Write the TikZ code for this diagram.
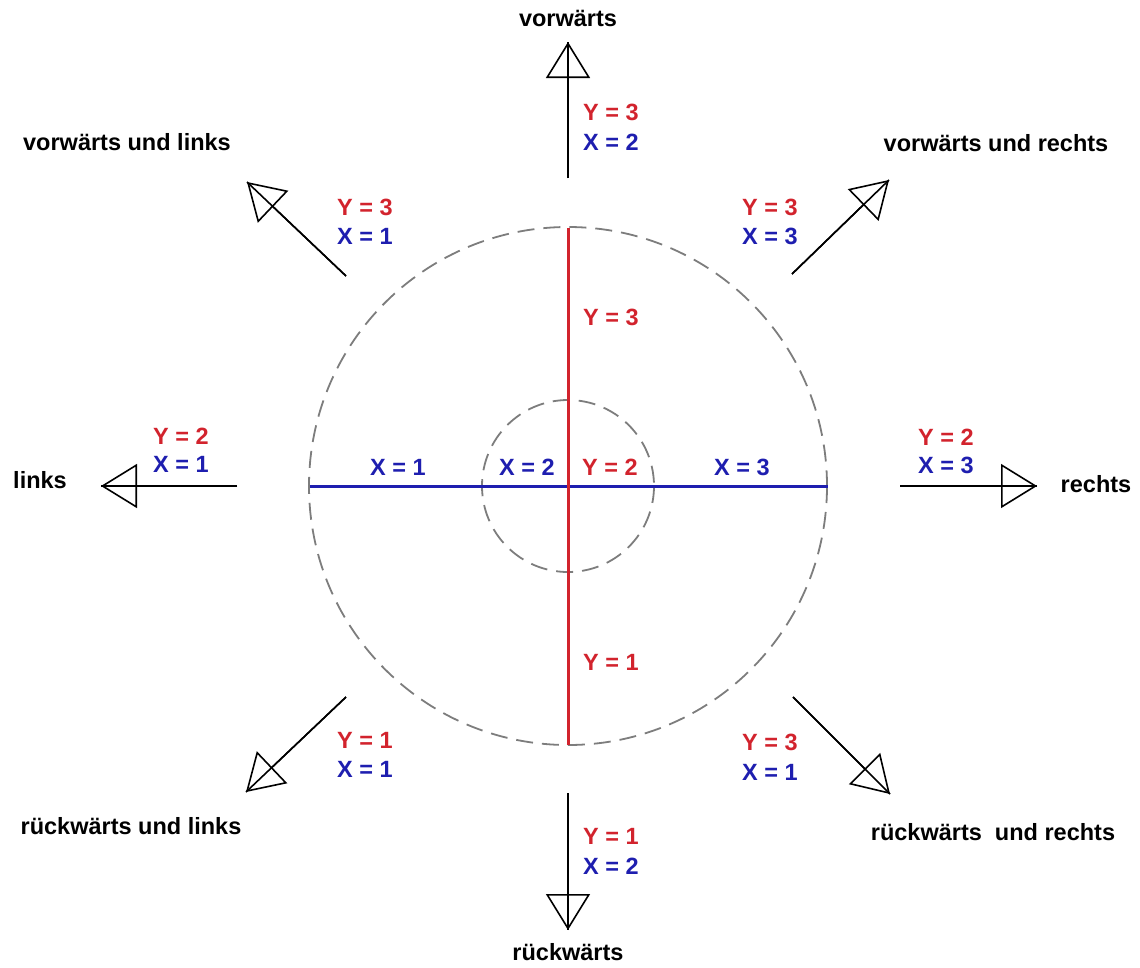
\documentclass[tikz,border=0pt]{standalone}
\usepackage{fontspec}
\setmainfont{Liberation Sans}
\usetikzlibrary{arrows.meta}
\definecolor{cred}{RGB}{210,35,45}
\definecolor{cblue}{RGB}{30,30,175}
\definecolor{cgray}{RGB}{125,125,125}
\begin{document}
\begin{tikzpicture}[x=1pt,y=-1pt,
  lbl/.style={font=\fontsize{23.5}{25}\selectfont\bfseries, text=black, inner sep=0pt},
  yl/.style={font=\fontsize{23.5}{25}\selectfont\bfseries, text=cred, inner sep=0pt},
  xl/.style={font=\fontsize{23.5}{25}\selectfont\bfseries, text=cblue, inner sep=0pt},
  dircline/.style={draw=black, line width=1.6pt},
  dirchead/.style={draw=black, line width=1.6pt, -{Triangle[open,length=36pt,width=44pt,line width=1.6pt]}},
  circ/.style={draw=cgray, line width=1.8pt, dash pattern=on 17pt off 9pt},
  redline/.style={draw=cred, line width=3pt},
  blueline/.style={draw=cblue, line width=3pt}]
\useasboundingbox (0,0) rectangle (1140,967);
\coordinate (c) at (568,486);
% circles
\draw[circ] (c) circle[radius=259];
\draw[circ] (c) circle[radius=86];
% axes
\coordinate (vt) at (568,228);
\coordinate (vb) at (568,745);
\coordinate (hl) at (310,486);
\coordinate (hr) at (828,486);
\draw[blueline] (hl) -- (hr);
\draw[redline] (vt) -- (vb);
% arrows
\coordinate (ns) at (568,178); \coordinate (nt) at (568,42);
\coordinate (ss) at (568,793); \coordinate (st) at (568,930);
\coordinate (ws) at (237,486); \coordinate (wt) at (101,486);
\coordinate (es) at (900,486); \coordinate (et) at (1037,486);
\coordinate (nws) at (346,276); \coordinate (nwt) at (247,182);
\coordinate (nes) at (792,274); \coordinate (net) at (889,180);
\coordinate (sws) at (346,697); \coordinate (swt) at (246,792);
\coordinate (ses) at (793,697); \coordinate (set) at (890,794);
\foreach \a in {n,s,w,e,nw,ne,sw,se}{
  \draw[dircline] (\a s) -- (\a t);
  \draw[dirchead] (\a s) -- (\a t);
}
% direction labels
\node[lbl] (tn) at (568,18) {vorwärts};
\node[lbl] (tnw) at (127,142) {vorwärts und links};
\node[lbl] (tne) at (996,143) {vorwärts und rechts};
\node[lbl] (tw) at (40,480) {links};
\node[lbl] (te) at (1096,484) {rechts};
\node[lbl] (tsw) at (131,826) {rückwärts und links};
\node[lbl] (tse) at (993,832) {rückwärts\ \ und rechts};
\node[lbl] (ts) at (568,952) {rückwärts};
% value labels outside
\node[yl] (y1) at (611,112) {Y = 3}; \node[xl] (x1) at (611,142) {X = 2};
\node[yl] (y2) at (365,207) {Y = 3}; \node[xl] (x2) at (365,236) {X = 1};
\node[yl] (y3) at (770,207) {Y = 3}; \node[xl] (x3) at (770,236) {X = 3};
\node[yl] (y4) at (181,436) {Y = 2}; \node[xl] (x4) at (181,464) {X = 1};
\node[yl] (y5) at (946,437) {Y = 2}; \node[xl] (x5) at (946,465) {X = 3};
\node[yl] (y6) at (365,740) {Y = 1}; \node[xl] (x6) at (365,769) {X = 1};
\node[yl] (y7) at (770,742) {Y = 3}; \node[xl] (x7) at (770,772) {X = 1};
\node[yl] (y8) at (611,836) {Y = 1}; \node[xl] (x8) at (611,866) {X = 2};
% inside labels
\node[yl] (iy3) at (611,317) {Y = 3};
\node[xl] (ix1) at (398,467) {X = 1};
\node[xl] (ix2) at (527,467) {X = 2};
\node[yl] (iy2) at (610,467) {Y = 2};
\node[xl] (ix3) at (742,467) {X = 3};
\node[yl] (iy1) at (611,662) {Y = 1};
\end{tikzpicture}
\end{document}
